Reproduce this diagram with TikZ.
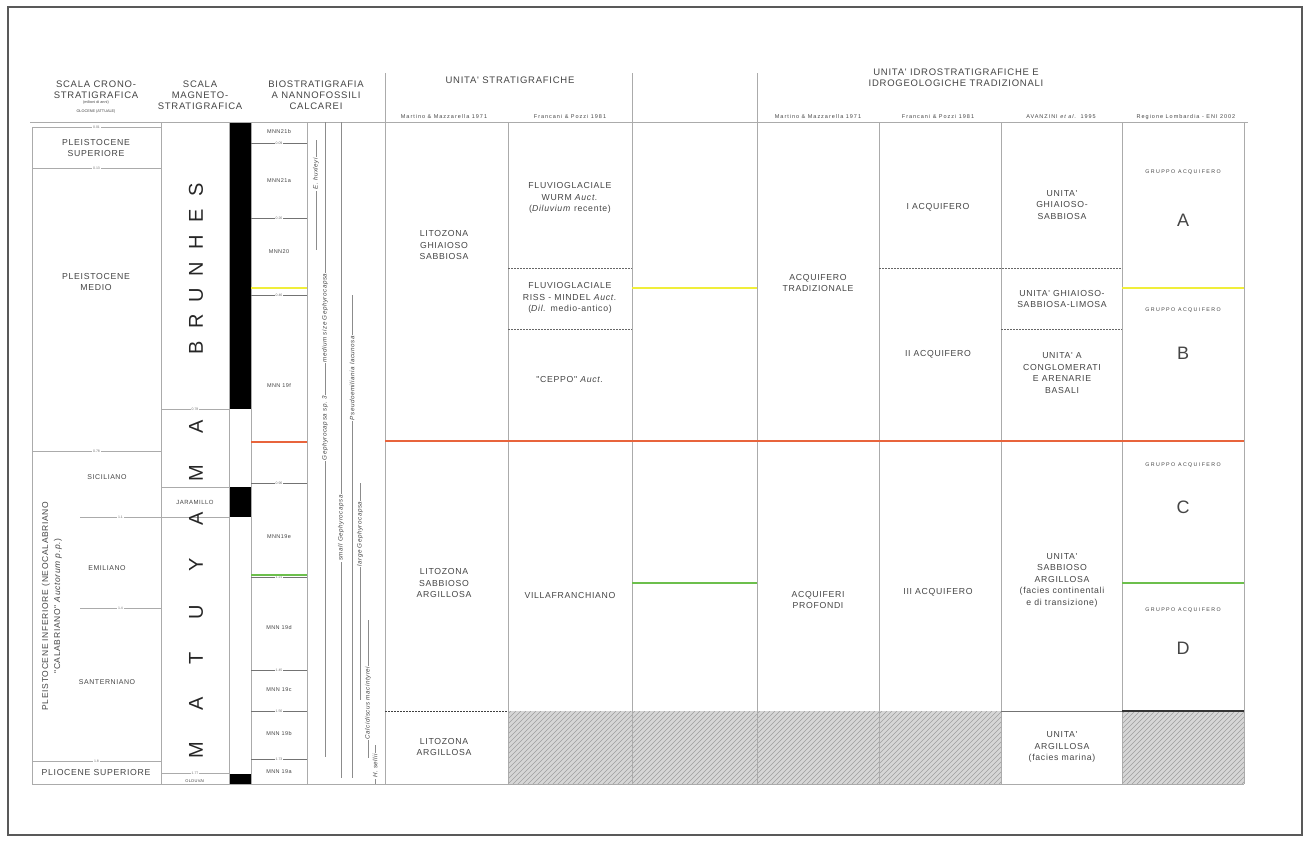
\documentclass[tikz,border=0pt]{standalone}
\usepackage{fontspec}
\setmainfont{Liberation Sans}
\newfontfamily\lsp{Liberation Sans}[LetterSpace=8]
\newfontfamily\lspw{Liberation Sans}[LetterSpace=18]
\newfontfamily\lspx{Liberation Sans}[LetterSpace=26]
\definecolor{gridc}{HTML}{ABABAB}
\definecolor{txtc}{HTML}{454545}
\definecolor{redl}{HTML}{E8643C}
\definecolor{yell}{HTML}{F0EE3A}
\definecolor{grnl}{HTML}{6CBF4C}
\definecolor{hatchbg}{HTML}{D6D6D6}
\tikzset{
 gridln/.style={draw=gridc, line width=0.8pt},
 divln/.style={draw=black!60, line width=0.9pt, dash pattern=on 2pt off 1pt},
 zoneln/.style={draw=black!55, line width=0.8pt},
 body/.style={font=\fontsize{8.7}{11.5}\selectfont\lsp, text=txtc, align=center, inner sep=0pt},
 small/.style={font=\fontsize{7}{8}\selectfont\lsp, text=txtc, align=center, inner sep=0pt},
 head/.style={font=\fontsize{9.5}{11}\selectfont\lsp, text=txtc, align=center, inner sep=0pt},
 subh/.style={font=\fontsize{5.5}{6}\selectfont\lspw, text=txtc, inner sep=0pt},
 tickl/.style={font=\fontsize{3.5}{4}\selectfont, text=black!55, inner sep=0.6pt, fill=white},
 zonel/.style={font=\fontsize{5.5}{6}\selectfont\lsp, text=txtc, inner sep=0pt},
 grpl/.style={font=\fontsize{5.3}{6}\selectfont\lspx, text=txtc, inner sep=0pt},
 letter/.style={font=\fontsize{18}{18}\selectfont, text=txtc, inner sep=0pt},
 magl/.style={font=\fontsize{20}{20}\selectfont, text=black!85, rotate=90, inner sep=0pt},
 spec/.style={font=\fontsize{6.3}{6.3}\selectfont\lsp\itshape, text=txtc, rotate=90, fill=white, inner sep=1pt},
 rng/.style={draw=black!45, line width=0.6pt},
 hatchl/.style={draw=black!38, line width=0.5pt},
 colline/.style={line width=2.2pt},
}
\begin{document}
\begin{tikzpicture}[x=1pt,y=-1pt]
\useasboundingbox (0,0) rectangle (1306,841);
\fill[white] (0,0) rectangle (1306,841);
\draw[black!65, line width=1.2pt] (8,7) rectangle (1302,835);

% ---------- hatched (no data) areas
\foreach \a/\b in {508/632,632/757,757/879,879/1001,1122/1244}{
  \begin{scope}
    \clip (\a,711) rectangle (\b,784);
    \fill[hatchbg] (\a,711) rectangle (\b,784);
    \foreach \k in {-80,-75,...,130}{
      \draw[hatchl] (\a+\k,784) -- (\a+\k+73,711);
    }
  \end{scope}
}

% ---------- polarity column
\fill[black] (229,122) rectangle (251,409);
\fill[black] (229,487) rectangle (251,517);
\fill[black] (229,774) rectangle (251,784);

% ---------- frame lines
\draw[gridln] (30,122) -- (1248,122);
\draw[gridln] (32,784) -- (1244,784);
\foreach \x in {161,229,251,307,508,879,1001,1122,1244}{
  \draw[gridln] (\x,122) -- (\x,784);
}
\draw[gridln] (32,127) -- (32,784);
\foreach \x in {385,632,757}{
  \draw[gridln] (\x,73) -- (\x,784);
}

% ---------- headers
\node[head] (hcrono) at (96,89.5) {SCALA CRONO-\\STRATIGRAFICA};
\node[font=\fontsize{3.8}{4}\selectfont, text=txtc] (hma) at (96,103) {(milioni di anni)};
\node[font=\fontsize{3.8}{4}\selectfont, text=txtc] (holo) at (96,112) {OLOCENE (ATTUALE)};
\node[head] (hmag) at (200,95) {SCALA\\MAGNETO-\\STRATIGRAFICA};
\node[head] (hbio) at (316,95) {BIOSTRATIGRAFIA\\A NANNOFOSSILI\\CALCAREI};
\node[head] (hstrat) at (510,80) {UNITA' STRATIGRAFICHE};
\node[head] (hidro) at (956,78) {UNITA' IDROSTRATIGRAFICHE E\\IDROGEOLOGICHE TRADIZIONALI};
\node[subh] (s1) at (444,117) {Martino \& Mazzarella 1971};
\node[subh] (s2) at (570,117) {Francani \& Pozzi 1981};
\node[subh] (s3) at (818,117) {Martino \& Mazzarella 1971};
\node[subh] (s4) at (938,117) {Francani \& Pozzi 1981};
\node[subh] (s5) at (1061,117) {AVANZINI \textit{et al.} 1995};
\node[subh] (s6) at (1186,117) {Regione Lombardia - ENI 2002};

% ---------- chronostratigraphy column
\draw[gridln] (32,127) -- (161,127) node[tickl,midway] (t1) {0.01};
\draw[gridln] (32,168) -- (161,168) node[tickl,midway] (t2) {0.13};
\draw[gridln] (32,451) -- (161,451) node[tickl,midway] (t3) {0.78};
\draw[gridln] (80,517) -- (161,517) node[tickl,midway] (t4) {1.1};
\draw[gridln] (80,608) -- (161,608) node[tickl,midway] (t5) {1.4};
\draw[gridln] (32,761) -- (161,761) node[tickl,midway] (t6) {1.8};
\node[body] (psup) at (96,148) {PLEISTOCENE\\SUPERIORE};
\node[body] (pmed) at (96,282) {PLEISTOCENE\\MEDIO};
\node[small] (sic) at (107,477) {SICILIANO};
\node[small] (emi) at (107,568) {EMILIANO};
\node[small] (san) at (107,682) {SANTERNIANO};
\node[body] (plio) at (96,772) {PLIOCENE SUPERIORE};
\node[body, rotate=90, font=\fontsize{8.5}{12}\selectfont\lsp] (pinf) at (52,606)
  {PLEISTOCENE INFERIORE (NEOCALABRIANO\\"CALABRIANO" \textit{Auctorum p.p.})};

% ---------- magnetostratigraphy column
\draw[gridln] (161,409) -- (229,409) node[tickl,midway] (t7) {0.78};
\draw[gridln] (161,487) -- (229,487);
\draw[gridln] (161,517) -- (229,517);
\draw[gridln] (161,773) -- (229,773) node[tickl,midway] (t8) {1.77};
\node[small, font=\fontsize{6}{7}\selectfont\lsp] (jar) at (195,502) {JARAMILLO};
\node[font=\fontsize{4}{4}\selectfont\lsp, text=txtc, inner sep=0pt] (old) at (195,781) {OLDUVAI};
\foreach \l/\yy [count=\i] in {S/190,E/216.3,H/242.6,N/268.9,U/295.2,R/321.5,B/347.8}{
  \node[magl] (br\i) at (196,\yy) {\l};
}
\foreach \l/\yy [count=\i] in {A/427,M/473,A/519,Y/565,U/612,T/658,A/704,M/750}{
  \node[magl] (mt\i) at (196,\yy) {\l};
}

% ---------- nannofossil zones
\foreach \yy/\t [count=\i] in {143/0.09,218/0.26,295/0.46,483/0.96,577/1.21,670/1.45,711/1.56,759/1.73}{
  \draw[zoneln] (251,\yy) -- (307,\yy) node[tickl,midway] (z\i) {\t};
}
\node[zonel] (mnn21b) at (279,132) {MNN21b};
\node[zonel] (mnn21a) at (279,181) {MNN21a};
\node[zonel] (mnn20) at (279,252) {MNN20};
\node[zonel] (mnn19f) at (279,386) {MNN 19f};
\node[zonel] (mnn19e) at (279,537) {MNN19e};
\node[zonel] (mnn19d) at (279,628) {MNN 19d};
\node[zonel] (mnn19c) at (279,690) {MNN 19c};
\node[zonel] (mnn19b) at (279,734) {MNN 19b};
\node[zonel] (mnn19a) at (279,772) {MNN 19a};

% ---------- nannofossil ranges
\draw[rng] (316,140) -- (316,250);
\node[spec] (ehux) at (316,174) {E. huxleyi};
\draw[rng] (325,122) -- (325,757);
\node[spec] (medg) at (325,318) {medium size Gephyrocapsa};
\node[spec] (gsp3) at (325,428) {Gephyrocapsa sp. 3};
\draw[rng] (341,122) -- (341,778);
\node[spec] (smg) at (341,528) {small Gephyrocapsa};
\draw[rng] (352,295) -- (352,778);
\node[spec] (plac) at (352,378) {Pseudoemiliania lacunosa};
\draw[rng] (360,483) -- (360,700);
\node[spec] (lgg) at (360,534) {large Gephyrocapsa};
\draw[rng] (368,620) -- (368,758);
\node[spec] (cmac) at (368,703) {Calcidiscus macintyrei};
\draw[rng] (375,745) -- (375,784);
\node[spec] (hsel) at (375,766) {H. sellii};

% ---------- dividers
\draw[divln] (508,268) -- (632,268);
\draw[divln] (508,329) -- (632,329);
\draw[divln] (879,268) -- (1122,268);
\draw[divln] (1001,329) -- (1122,329);
\draw[divln, draw=black!75] (385,711) -- (508,711);
\draw[draw=black!55, line width=0.8pt] (1001,711) -- (1122,711);
\draw[draw=black!80, line width=1.2pt] (1122,711) -- (1244,711);

% ---------- coloured correlation lines
\draw[yell, colline] (251,288) -- (307,288);
\draw[yell, colline] (632,288) -- (757,288);
\draw[yell, colline] (1122,288) -- (1244,288);
\draw[redl, colline, line width=2.6pt] (251,442) -- (307,442);
\draw[redl, colline, line width=2.6pt] (385,441) -- (1244,441);
\draw[grnl, colline] (251,575) -- (307,575);
\draw[grnl, colline] (632,583) -- (757,583);
\draw[grnl, colline] (1122,583) -- (1244,583);

% ---------- stratigraphic units
\node[body] (lgs) at (444,245) {LITOZONA\\GHIAIOSO\\SABBIOSA};
\node[body] (lsa) at (444,583) {LITOZONA\\SABBIOSO\\ARGILLOSA};
\node[body] (la) at (444,747) {LITOZONA\\ARGILLOSA};
\node[body] (fw) at (570,198) {FLUVIOGLACIALE\\WURM \textit{Auct.}\\(\textit{Diluvium} recente)};
\node[body] (frm) at (570,298) {FLUVIOGLACIALE\\RISS - MINDEL \textit{Auct.}\\(\textit{Dil.} medio-antico)};
\node[body] (cep) at (570,379) {"CEPPO" \textit{Auct.}};
\node[body] (vil) at (570,595) {VILLAFRANCHIANO};

% ---------- hydrostratigraphic units
\node[body] (atr) at (818,283) {ACQUIFERO\\TRADIZIONALE};
\node[body] (apr) at (818,600) {ACQUIFERI\\PROFONDI};
\node[body] (a1) at (938,207) {I ACQUIFERO};
\node[body] (a2) at (938,354) {II ACQUIFERO};
\node[body] (a3) at (938,592) {III ACQUIFERO};
\node[body] (ugs) at (1062,205) {UNITA'\\GHIAIOSO-\\SABBIOSA};
\node[body] (ugsl) at (1062,299) {UNITA' GHIAIOSO-\\SABBIOSA-LIMOSA};
\node[body] (uca) at (1062,373) {UNITA' A\\CONGLOMERATI\\E ARENARIE\\BASALI};
\node[body] (usa) at (1062,580) {UNITA'\\SABBIOSO\\ARGILLOSA\\(facies continentali\\e di transizione)};
\node[body] (uar) at (1062,747) {UNITA'\\ARGILLOSA\\(facies marina)};

\node[grpl] (gA) at (1183,172) {GRUPPO ACQUIFERO};
\node[letter] (lA) at (1183,220) {A};
\node[grpl] (gB) at (1183,310) {GRUPPO ACQUIFERO};
\node[letter] (lB) at (1183,353) {B};
\node[grpl] (gC) at (1183,465) {GRUPPO ACQUIFERO};
\node[letter] (lC) at (1183,507) {C};
\node[grpl] (gD) at (1183,610) {GRUPPO ACQUIFERO};
\node[letter] (lD) at (1183,648) {D};
\end{tikzpicture}
\end{document}
